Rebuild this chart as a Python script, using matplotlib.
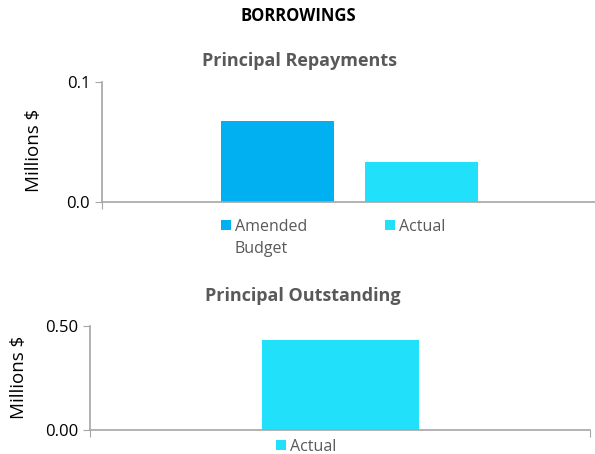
"""
Borrowings: principal repayments and principal outstanding.
"""
import matplotlib
matplotlib.use("Agg")
import matplotlib.pyplot as plt
from matplotlib.patches import Rectangle
from matplotlib.ticker import FormatStrFormatter

# data (millions $)
repay_series = ["Amended\nBudget", "Actual"]
repay_values = [0.0675, 0.0332]
outstanding_series = ["Actual"]
outstanding_values = [0.431]

AMENDED = "#00B0F0"
ACTUAL = "#21E1FA"
AXIS_GREY = "#A6A6A6"
TITLE_GREY = "#595959"

plt.rcParams["font.family"] = ["Open Sans", "DejaVu Sans"]

W, H = 595, 454
fig = plt.figure(figsize=(W / 100, H / 100), dpi=100)


def px_axes(left, top, right, bottom):
    return fig.add_axes([left / W, 1 - bottom / H, (right - left) / W, (bottom - top) / H])


def px_text(x, y, s, **kw):
    return fig.text(x / W, 1 - y / H, s, **kw)


def legend_item(x, y, color, label):
    # square marker (10px) with its label, y is the centre of the first line
    fig.add_artist(Rectangle((x / W, 1 - (y + 5) / H), 10 / W, 10 / H,
                             transform=fig.transFigure, color=color, lw=0))
    px_text(x + 14, y - 6, label, ha="left", va="top", fontsize=11.5,
            color=TITLE_GREY, linespacing=1.5)


def style(ax):
    for s in ("top", "right"):
        ax.spines[s].set_visible(False)
    for s in ("left", "bottom"):
        ax.spines[s].set_color(AXIS_GREY)
        ax.spines[s].set_linewidth(1.2)
    ax.tick_params(axis="both", colors=AXIS_GREY, labelcolor="black", labelsize=12, length=5)
    ax.set_xlim(-0.5, 0.5)
    ax.set_xticks([-0.5, 0.5])
    ax.set_xticklabels([])


px_text(298, 16, "BORROWINGS", ha="center", va="center", fontsize=12, fontweight="bold")

# top chart
ax1 = px_axes(102, 82, 597, 202)
style(ax1)
colors = [AMENDED, ACTUAL]
offsets = [-0.145, 0.145]
for off, v, c in zip(offsets, repay_values, colors):
    ax1.bar(off, v, width=0.229, color=c)
ax1.set_ylim(0, 0.1)
ax1.set_yticks([0, 0.1])
ax1.yaxis.set_major_formatter(FormatStrFormatter("%.1f"))
px_text(34, 150, "Millions $", ha="center", va="center", rotation=90, fontsize=13.5)
px_text(300, 61, "Principal Repayments", ha="center", va="center",
        fontsize=13, fontweight="bold", color=TITLE_GREY)
legend_item(221, 225, AMENDED, repay_series[0])
legend_item(385, 225, ACTUAL, repay_series[1])

# bottom chart
ax2 = px_axes(90, 326, 590, 430)
style(ax2)
ax2.bar(0, outstanding_values[0], width=0.314, color=ACTUAL)
ax2.set_ylim(0, 0.5)
ax2.set_yticks([0, 0.5])
ax2.yaxis.set_major_formatter(FormatStrFormatter("%.2f"))
px_text(19, 377, "Millions $", ha="center", va="center", rotation=90, fontsize=13.5)
px_text(303, 296, "Principal Outstanding", ha="center", va="center",
        fontsize=13, fontweight="bold", color=TITLE_GREY)
legend_item(276, 445, ACTUAL, outstanding_series[0])

fig.savefig("out.png", dpi=100)
